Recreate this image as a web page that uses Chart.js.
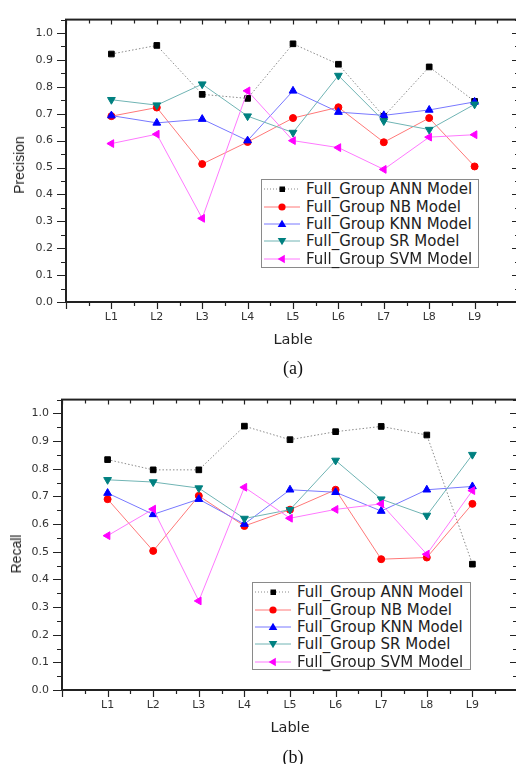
<!DOCTYPE html>
<html>
<head>
<meta charset="utf-8">
<script src="https://cdn.jsdelivr.net/npm/chart.js@4"></script>
<style>
  body { margin: 0; width: 516px; height: 764px; overflow: hidden; position: relative; background: #fff; }
  .panel { position: absolute; left: 0; }
  .ytitle, .xtitle, .caption { position: absolute; white-space: nowrap; color: #222; transform: translate(-50%, -50%); }
  .ytitle { font: 14px "Liberation Sans", Arial, sans-serif; transform: translate(-50%, -50%) rotate(-90deg); }
  .xtitle { font: 14.5px "DejaVu Sans", sans-serif; }
  .caption { font: 18px "Liberation Serif", "Times New Roman", serif; color: #111; }
  .legend { position: absolute; border: 1px solid #8a8a8a; background: #fff; padding: 0; box-sizing: border-box; }
  .legend .row { height: 17.4px; display: flex; align-items: center; font: 15px "DejaVu Sans", sans-serif; color: #222; }
  .legend svg { margin-left: 2px; margin-right: 6px; flex: none; }
</style>
</head>
<body>
<div class="panel" style="top:0;width:530px;height:360px"><canvas id="chartA" width="530" height="360"></canvas></div>
<div class="ytitle" style="left:19px;top:165px">Precision</div>
<div class="xtitle" style="left:293px;top:339px">Lable</div>
<div class="legend" id="legendA" style="left:261px;top:179px;width:218px;height:89px;padding-top:0.5px"></div>
<div class="caption" style="left:293px;top:368px">(a)</div>

<div class="panel" style="top:380px;width:530px;height:370px"><canvas id="chartB" width="530" height="370"></canvas></div>
<div class="ytitle" style="left:16px;top:554px">Recall</div>
<div class="xtitle" style="left:290px;top:727px">Lable</div>
<div class="legend" id="legendB" style="left:252px;top:582px;width:219px;height:88px;padding-top:0.5px"></div>
<div class="caption" style="left:293px;top:757px">(b)</div>

<script>
'use strict';

// ── data ─────────────────────────────────────────────────────────────────────

const LABELS = ['L1', 'L2', 'L3', 'L4', 'L5', 'L6', 'L7', 'L8', 'L9'];
const SERIES = ['Full_Group ANN Model', 'Full_Group NB Model', 'Full_Group KNN Model',
                'Full_Group SR Model', 'Full_Group SVM Model'];
const Y_TICKS = [0.0, 0.1, 0.2, 0.3, 0.4, 0.5, 0.6, 0.7, 0.8, 0.9, 1.0];

// (a) Precision
const P_ANN = [0.922, 0.954, 0.772, 0.757, 0.960, 0.884, 0.690, 0.874, 0.746];
const P_NB  = [0.691, 0.723, 0.513, 0.595, 0.684, 0.724, 0.594, 0.684, 0.504];
const P_KNN = [0.693, 0.666, 0.680, 0.600, 0.785, 0.706, 0.694, 0.714, 0.744];
const P_SR  = [0.752, 0.732, 0.810, 0.691, 0.630, 0.842, 0.673, 0.641, 0.735];
const P_SVM = [0.589, 0.624, 0.311, 0.785, 0.600, 0.574, 0.493, 0.613, 0.622];

// (b) Recall
const R_ANN = [0.833, 0.796, 0.796, 0.954, 0.905, 0.934, 0.953, 0.922, 0.455];
const R_NB  = [0.690, 0.503, 0.702, 0.593, 0.652, 0.724, 0.473, 0.479, 0.673];
const R_KNN = [0.712, 0.635, 0.690, 0.600, 0.724, 0.715, 0.647, 0.724, 0.736];
const R_SR  = [0.760, 0.752, 0.730, 0.620, 0.652, 0.830, 0.690, 0.631, 0.851];
const R_SVM = [0.558, 0.654, 0.322, 0.733, 0.621, 0.653, 0.673, 0.491, 0.721];

// ── styles ───────────────────────────────────────────────────────────────────

const STYLES = [
  { marker: '#000000', line: '#8a8a8a', dash: [1.5, 2], shape: 'rect',     r: 4,   rot: 0 },
  { marker: '#ff0000', line: '#ff7878', dash: [],       shape: 'circle',   r: 3.5, rot: 0 },
  { marker: '#0000ff', line: '#7878ff', dash: [],       shape: 'triangle', r: 4.5, rot: 0 },
  { marker: '#008080', line: '#70b4b4', dash: [],       shape: 'triangle', r: 4.5, rot: 180 },
  { marker: '#ff00ff', line: '#ff78ff', dash: [],       shape: 'triangle', r: 4.5, rot: -90 },
];

const TICK_FONT = { family: '"DejaVu Sans", sans-serif', size: 11 };

// ── frame + tick marks (Origin style) ────────────────────────────────────────

const framePlugin = {
  id: 'frame',
  afterDraw(chart) {
    const { ctx, chartArea: a, scales: { x, y } } = chart;
    ctx.save();
    ctx.strokeStyle = '#222';
    ctx.lineWidth = 2;
    ctx.strokeRect(a.left, a.top, a.right - a.left, a.bottom - a.top);
    ctx.lineWidth = 1.2;
    ctx.beginPath();
    for (let i = 0; i <= 20; i++) {
      const px = Math.round(x.getPixelForValue(i / 2)) + 0.5;
      const major = i % 2 === 0;
      ctx.moveTo(px, a.bottom); ctx.lineTo(px, a.bottom + (major ? 7 : 4));
      ctx.moveTo(px, a.top);    ctx.lineTo(px, a.top + (major ? 5 : 4));
    }
    for (let i = 0; i <= 21; i++) {
      const py = Math.round(y.getPixelForValue(i * 0.05)) + 0.5;
      const major = i % 2 === 0;
      ctx.moveTo(a.left, py);  ctx.lineTo(a.left - (major ? 9 : 5), py);
      ctx.moveTo(a.right, py); ctx.lineTo(a.right - (major ? 8 : 5), py);
    }
    ctx.stroke();
    ctx.restore();
  },
};

// ── chart builder ────────────────────────────────────────────────────────────

function datasets(series) {
  return series.map((vals, i) => {
    const s = STYLES[i];
    return {
      label: SERIES[i],
      data: vals.map((v, j) => ({ x: j + 1, y: v })),
      order: series.length - i,
      borderColor: s.line, borderWidth: 1, borderDash: s.dash,
      pointStyle: s.shape, pointRotation: s.rot, pointRadius: s.r,
      pointBackgroundColor: s.marker, pointBorderColor: s.marker, pointBorderWidth: 1,
      pointHoverRadius: s.r, tension: 0, fill: false,
    };
  });
}

function makeChart(id, series, box) {
  const canvas = document.getElementById(id);
  return new Chart(canvas, {
    type: 'line',
    data: { datasets: datasets(series) },
    plugins: [framePlugin],
    options: {
      responsive: false, animation: false,
      events: [],
      layout: { padding: { top: box.top, right: canvas.width - box.right, left: 0, bottom: 0 } },
      plugins: { legend: { display: false }, tooltip: { enabled: false } },
      scales: {
        x: {
          type: 'linear', min: 0, max: 10,
          afterBuildTicks: sc => { sc.ticks = LABELS.map((_, i) => ({ value: i + 1 })); },
          afterFit: sc => { sc.height = canvas.height - box.bottom; },
          ticks: { callback: v => LABELS[Math.round(v) - 1], font: TICK_FONT, color: '#333',
                   padding: 9, autoSkip: false, maxRotation: 0 },
          grid: { display: false, drawTicks: false },
          border: { display: false },
        },
        y: {
          min: 0, max: 1.05,
          afterBuildTicks: sc => { sc.ticks = Y_TICKS.map(v => ({ value: v })); },
          afterFit: sc => { sc.width = box.left; },
          ticks: { callback: v => v.toFixed(1), font: TICK_FONT, color: '#333', padding: 13 },
          grid: { display: false, drawTicks: false },
          border: { display: false },
        },
      },
    },
  });
}

// ── legend ───────────────────────────────────────────────────────────────────

function markerSvg(s) {
  const c = s.marker;
  let m;
  if (s.shape === 'rect') m = `<rect x="15.5" y="3.5" width="5.5" height="5.5" fill="${c}"/>`;
  else if (s.shape === 'circle') m = `<circle cx="18" cy="6" r="3.6" fill="${c}"/>`;
  else if (s.rot === 0) m = `<polygon points="18,1.8 22.3,9 13.7,9" fill="${c}"/>`;
  else if (s.rot === 180) m = `<polygon points="18,10.2 22.3,3 13.7,3" fill="${c}"/>`;
  else m = `<polygon points="13.6,6 20.8,1.7 20.8,10.3" fill="${c}"/>`;
  const dash = s.dash.length ? ` stroke-dasharray="1,2"` : '';
  return `<svg width="36" height="12"><line x1="0" y1="6" x2="36" y2="6" stroke="${s.line}" stroke-width="1"${dash}/>${m}</svg>`;
}

function buildLegend(id) {
  document.getElementById(id).innerHTML = SERIES.map((name, i) =>
    `<div class="row">${markerSvg(STYLES[i])}<span>${name}</span></div>`).join('');
}

// ── main ─────────────────────────────────────────────────────────────────────

makeChart('chartA', [P_ANN, P_NB, P_KNN, P_SR, P_SVM], { left: 66, top: 12, right: 520, bottom: 302 });
makeChart('chartB', [R_ANN, R_NB, R_KNN, R_SR, R_SVM], { left: 62, top: 19, right: 518, bottom: 310 });
buildLegend('legendA');
buildLegend('legendB');
</script>
</body>
</html>
